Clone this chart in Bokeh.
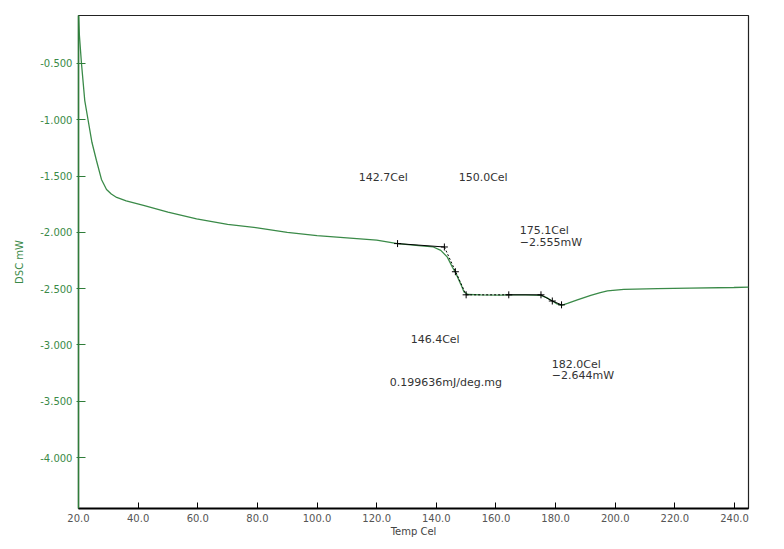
from bokeh.plotting import figure
from bokeh.models import Range1d, FixedTicker, NumeralTickFormatter, ColumnDataSource
from bokeh.embed import file_html
from bokeh.resources import INLINE
from bokeh.core.properties import value

# DSC curve (Temp Cel, DSC mW)
temp = [20.0, 20.3, 21.0, 22.1, 23.2, 24.5, 26.0, 27.7, 29.4, 31.0, 32.8, 36.0, 41.8, 50.0,
        59.6, 70.0, 80.0, 90.0, 100.0, 110.0, 120.0, 127.0, 135.0, 139.0, 141.5, 143.7,
        145.4, 146.5, 148.2, 149.3, 150.6, 155.0, 161.6, 164.3, 170.0, 175.0, 177.0, 178.9,
        180.5, 182.0, 184.0, 187.3, 191.8, 195.0, 197.4, 202.9, 214.2, 225.0, 239.8, 244.8]
dsc = [-0.06, -0.25, -0.50, -0.83, -1.00, -1.20, -1.36, -1.53, -1.62, -1.66, -1.69, -1.72,
       -1.76, -1.82, -1.88, -1.93, -1.96, -2.00, -2.03, -2.05, -2.07, -2.10, -2.12, -2.13,
       -2.16, -2.22, -2.31, -2.36, -2.46, -2.53, -2.552, -2.555, -2.557, -2.555, -2.556,
       -2.56, -2.58, -2.61, -2.635, -2.648, -2.63, -2.60, -2.56, -2.535, -2.52, -2.507,
       -2.50, -2.495, -2.49, -2.487]

# analysis construction lines
tan1_x = [127.0, 142.7]
tan1_y = [-2.10, -2.13]
slope_x = [142.7, 150.0]
slope_y = [-2.13, -2.555]
base_dot_x = [150.0, 164.3]
base_dot_y = [-2.555, -2.555]
base_x = [164.3, 175.1, 178.9, 182.0]
base_y = [-2.555, -2.555, -2.61, -2.644]
mark_x = [127.0, 142.7, 146.4, 150.0, 164.3, 175.1, 178.9, 182.0]
mark_y = [-2.10, -2.13, -2.35, -2.555, -2.555, -2.555, -2.61, -2.644]

# annotations
ann_text = ["142.7Cel", "150.0Cel", "175.1Cel", "\u22122.555mW", "146.4Cel",
            "182.0Cel", "\u22122.644mW", "0.199636mJ/deg.mg"]
ann_x = [114.0, 147.5, 168.0, 168.0, 131.4, 178.7, 178.7, 124.4]
ann_y = [-1.512, -1.512, -1.983, -2.09, -2.951, -3.173, -3.27, -3.333]

x_ticks = [20, 40, 60, 80, 100, 120, 140, 160, 180, 200, 220, 240]
y_ticks = [-4.0, -3.5, -3.0, -2.5, -2.0, -1.5, -1.0, -0.5]

GREEN = "#3a8a48"
AXGREEN = "#2f7d3a"
FONT = "DejaVu Sans"

p = figure(frame_width=670, frame_height=493, output_backend="svg", toolbar_location=None,
           x_range=Range1d(20.0, 244.7), y_range=Range1d(-4.453, -0.074),
           min_border_left=78, min_border_top=15, min_border_right=20, min_border_bottom=33)
p.background_fill_color = "white"
p.border_fill_color = "white"
p.outline_line_color = "#222222"
p.outline_line_width = 1.2
p.xgrid.visible = False
p.ygrid.visible = False

p.line(temp, dsc, line_color=GREEN, line_width=1.3)

p.line(tan1_x, tan1_y, line_color="black", line_width=1)
p.line(slope_x, slope_y, line_color="black", line_width=1, line_dash="2 2")
p.line(base_dot_x, base_dot_y, line_color="black", line_width=1, line_dash="2 2")
p.line(base_x, base_y, line_color="black", line_width=1)
p.scatter(mark_x, mark_y, marker="cross", size=7, line_color="black", line_width=1)

src = ColumnDataSource(dict(x=ann_x, y=ann_y, t=ann_text))
p.text(x="x", y="y", text="t", source=src, text_font=value(FONT), text_font_size="11px",
       text_color="#333333", text_align="left", text_baseline="middle")

xa = p.xaxis[0]
xa.ticker = FixedTicker(ticks=x_ticks)
xa.formatter = NumeralTickFormatter(format="0.0")
xa.axis_line_color = "black"
xa.axis_line_width = 2
xa.major_tick_in = 6
xa.major_tick_out = 0
xa.major_tick_line_color = "black"
xa.minor_tick_line_color = None
xa.major_label_text_font = FONT
xa.major_label_text_font_size = "10px"
xa.major_label_text_color = "#555555"
xa.major_label_standoff = 5
xa.axis_label = "Temp Cel"
xa.axis_label_text_font = FONT
xa.axis_label_text_font_size = "10px"
xa.axis_label_text_font_style = "normal"
xa.axis_label_text_color = "#444444"
xa.axis_label_standoff = 1

ya = p.yaxis[0]
ya.ticker = FixedTicker(ticks=y_ticks)
ya.formatter = NumeralTickFormatter(format="0.000")
ya.axis_line_color = AXGREEN
ya.axis_line_width = 1.5
ya.major_tick_in = 7
ya.major_tick_out = 2
ya.major_tick_line_color = AXGREEN
ya.minor_tick_line_color = None
ya.major_label_text_font = FONT
ya.major_label_text_font_size = "10px"
ya.major_label_text_color = GREEN
ya.major_label_standoff = 4
ya.axis_label = "DSC mW"
ya.axis_label_text_font = FONT
ya.axis_label_text_font_size = "10px"
ya.axis_label_text_font_style = "normal"
ya.axis_label_text_color = GREEN
ya.axis_label_standoff = 12

open("out.html", "w").write(file_html(p, INLINE))
